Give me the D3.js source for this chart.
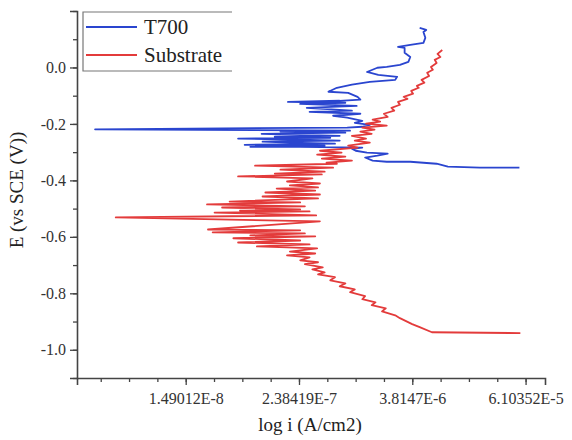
<!DOCTYPE html>
<html>
  <head>
    <meta charset="utf-8">
    <script src="https://d3js.org/d3.v7.min.js"></script>
    <style>
      body { margin: 0; background: #fff; }
    </style>
  </head>
  <body>
    <script type="text/javascript">
      var FONT = "'Liberation Serif', 'Times New Roman', serif";

      // series names
      var seriesNames = ["T700", "Substrate"];

      // T700: log i (log10 of A/cm2) and E (V vs SCE), cathodic end first
      var t700LogI = [-4.28, -4.70, -5.04, -5.16, -5.44, -5.69, -5.84, -5.92, -5.79, -5.68,
        -5.90, -6.02, -6.06, -5.95, -6.61, -7.14, -6.35, -7.20, -6.24, -6.72,
        -7.01, -6.19, -6.61, -7.27, -6.29, -6.88, -6.19, -7.02, -6.13, -6.82,
        -6.08, -8.79, -6.11, -5.95, -5.87, -6.03, -5.95, -6.11, -6.26, -5.97,
        -6.51, -6.06, -6.54, -6.01, -6.61, -6.13, -6.74, -6.19, -5.97, -6.00,
        -6.10, -6.31, -6.22, -6.06, -5.87, -5.60, -5.58, -5.78, -5.90, -5.79,
        -5.69, -5.55, -5.46, -5.44, -5.50, -5.50, -5.57, -5.44, -5.30, -5.28,
        -5.30, -5.27, -5.34];
      var t700E = [-0.355, -0.355, -0.351, -0.341, -0.334, -0.334, -0.330, -0.319, -0.312, -0.305,
        -0.302, -0.295, -0.288, -0.284, -0.281, -0.281, -0.277, -0.274, -0.270, -0.266,
        -0.263, -0.259, -0.256, -0.252, -0.249, -0.245, -0.242, -0.235, -0.231, -0.227,
        -0.224, -0.219, -0.213, -0.210, -0.203, -0.196, -0.189, -0.178, -0.171, -0.164,
        -0.157, -0.153, -0.143, -0.136, -0.129, -0.125, -0.122, -0.118, -0.114, -0.104,
        -0.090, -0.086, -0.072, -0.061, -0.051, -0.044, -0.033, -0.026, -0.016, -0.001,
        0.002, 0.009, 0.020, 0.037, 0.052, 0.069, 0.073, 0.080, 0.087, 0.105,
        0.126, 0.133, 0.140];

      // Substrate, cathodic end first
      var subLogI = [-4.27, -5.21, -5.34, -5.42, -5.55, -5.60, -5.74, -5.70, -5.85, -5.81,
        -5.95, -5.92, -6.08, -6.03, -6.19, -6.13, -6.29, -6.24, -6.42, -6.35,
        -6.48, -6.37, -6.56, -6.42, -6.61, -6.51, -6.75, -6.45, -6.72, -6.43,
        -7.07, -6.51, -7.27, -6.61, -7.32, -6.45, -7.14, -6.56, -7.54, -6.61,
        -7.59, -6.40, -8.57, -6.44, -7.52, -6.51, -7.25, -6.61, -7.44, -6.56,
        -7.60, -6.61, -7.36, -6.42, -7.01, -6.40, -6.98, -6.45, -6.86, -6.42,
        -6.72, -6.40, -6.75, -6.48, -7.27, -6.38, -6.88, -6.35, -6.82, -6.26,
        -7.09, -6.22, -6.33, -6.06, -6.38, -6.13, -6.43, -6.17, -6.40, -6.00,
        -6.10, -5.87, -6.03, -5.91, -6.06, -5.85, -5.97, -5.82, -5.95, -5.69,
        -5.91, -5.76, -5.84, -5.68, -5.72, -5.61, -5.64, -5.55, -5.57, -5.47,
        -5.51, -5.41, -5.43, -5.35, -5.37, -5.29, -5.32, -5.24, -5.26, -5.20,
        -5.22, -5.16, -5.18, -5.12, -5.15, -5.10];
      var subE = [-0.941, -0.938, -0.920, -0.909, -0.888, -0.878, -0.864, -0.853, -0.842, -0.832,
        -0.821, -0.810, -0.796, -0.786, -0.775, -0.765, -0.754, -0.743, -0.733, -0.726,
        -0.715, -0.708, -0.697, -0.690, -0.683, -0.673, -0.666, -0.659, -0.652, -0.641,
        -0.634, -0.627, -0.620, -0.613, -0.605, -0.598, -0.595, -0.588, -0.584, -0.577,
        -0.574, -0.545, -0.531, -0.524, -0.514, -0.510, -0.507, -0.503, -0.496, -0.492,
        -0.485, -0.478, -0.475, -0.464, -0.457, -0.450, -0.443, -0.436, -0.429, -0.425,
        -0.418, -0.411, -0.404, -0.393, -0.386, -0.379, -0.376, -0.369, -0.362, -0.355,
        -0.348, -0.341, -0.337, -0.330, -0.323, -0.316, -0.309, -0.302, -0.295, -0.284,
        -0.277, -0.266, -0.259, -0.252, -0.242, -0.235, -0.227, -0.220, -0.213, -0.206,
        -0.199, -0.192, -0.185, -0.175, -0.164, -0.153, -0.143, -0.132, -0.122, -0.111,
        -0.104, -0.093, -0.083, -0.072, -0.065, -0.054, -0.044, -0.030, -0.019, -0.008,
        0.002, 0.016, 0.027, 0.037, 0.048, 0.062];

      // axis ticks
      var xTickLabels = ["1.49012E-8", "2.38419E-7", "3.8147E-6", "6.10352E-5"];
      var yTickValues = [0.0, -0.2, -0.4, -0.6, -0.8, -1.0];

      var colors = ["#2a45cf", "#e33b3b"];

      var margin = {top: 11, right: 27, bottom: 62, left: 77};
      var width = 572 - margin.left - margin.right;
      var height = 440 - margin.top - margin.bottom;

      var x = d3.scaleLinear()
        .domain([-8.982, -4.008])
        .range([0, width]);

      var y = d3.scaleLinear()
        .domain([-1.1, 0.2])
        .range([height, 0]);

      var svg = d3.select("body").append("svg")
          .attr("width", 572)
          .attr("height", 440)
        .append("g")
          .attr("transform", "translate(" + margin.left + "," + margin.top + ")");

      // major x ticks at the labelled values, minor ticks every factor of 2
      var xMajor = xTickLabels.map(function(s) { return Math.log10(+s); });
      var xMinor = [];
      for (var k = -29; k <= -14; k++) {
        var v = k * Math.log10(2);
        if (v >= x.domain()[0] && v <= x.domain()[1]) xMinor.push(v);
      }
      var yMinor = d3.range(-11, 3).map(function(d) { return d / 10; });

      svg.append("g")
          .attr("transform", "translate(0," + height + ")")
          .call(d3.axisBottom(x).tickValues(xMinor).tickSize(4).tickFormat(""))
          .call(function(g) { g.select(".domain").remove(); })
          .selectAll("line").attr("stroke", "#444").attr("stroke-width", 1.3);

      var xAxis = svg.append("g")
          .attr("transform", "translate(0," + height + ")")
          .call(d3.axisBottom(x).tickValues(xMajor).tickSize(7).tickPadding(8)
            .tickFormat(function(d, i) { return xTickLabels[i]; }));

      svg.append("g")
          .call(d3.axisLeft(y).tickValues(yMinor).tickSize(4).tickFormat(""))
          .call(function(g) { g.select(".domain").remove(); })
          .selectAll("line").attr("stroke", "#444").attr("stroke-width", 1.3);

      var yAxis = svg.append("g")
          .call(d3.axisLeft(y).tickValues(yTickValues).tickSize(7).tickPadding(4)
            .tickFormat(function(d) { return d3.format(".1f")(d).replace("\u2212", "-"); }));

      [xAxis, yAxis].forEach(function(a) {
        a.attr("font-family", null);
        a.select(".domain").attr("stroke", "#444").attr("stroke-width", 1.6);
        a.selectAll(".tick line").attr("stroke", "#444").attr("stroke-width", 1.3);
        a.selectAll(".tick text")
          .style("font-family", FONT)
          .style("font-size", "16px")
          .attr("fill", "#333");
      });

      // curves
      var series = [
        t700LogI.map(function(d, i) { return [d, t700E[i]]; }),
        subLogI.map(function(d, i) { return [d, subE[i]]; })
      ];

      var line = d3.line()
        .x(function(d) { return x(d[0]); })
        .y(function(d) { return y(d[1]); });

      svg.selectAll(".curve")
        .data(series)
        .enter().append("path")
          .attr("class", "curve")
          .attr("d", line)
          .attr("fill", "none")
          .attr("stroke", function(d, i) { return colors[i]; })
          .attr("stroke-width", 1.8)
          .attr("stroke-linejoin", "round");

      // legend
      var lg = svg.append("g").attr("transform", "translate(6,1)");
      lg.append("path")
        .attr("d", "M149,0 H0 V59 H149")
        .attr("fill", "none")
        .attr("stroke", "#777")
        .attr("stroke-width", 1.2);
      seriesNames.forEach(function(name, i) {
        lg.append("line")
          .attr("x1", 3).attr("x2", 54)
          .attr("y1", 15 + i * 28).attr("y2", 15 + i * 28)
          .attr("stroke", colors[i]).attr("stroke-width", 1.8);
        lg.append("text")
          .attr("x", 61).attr("y", 22 + i * 28)
          .style("font-family", FONT)
          .style("font-size", "21px")
          .attr("fill", "#222")
          .text(name);
      });

      // axis titles
      svg.append("text")
        .attr("x", 233).attr("y", 420)
        .attr("text-anchor", "middle")
        .style("font-family", FONT)
        .style("font-size", "19px")
        .attr("fill", "#222")
        .text("log i (A/cm2)");

      svg.append("text")
        .attr("transform", "translate(-54," + 179 + ") rotate(-90)")
        .attr("text-anchor", "middle")
        .style("font-family", FONT)
        .style("font-size", "19px")
        .attr("fill", "#222")
        .text("E (vs SCE (V))");
    </script>
  </body>
</html>
